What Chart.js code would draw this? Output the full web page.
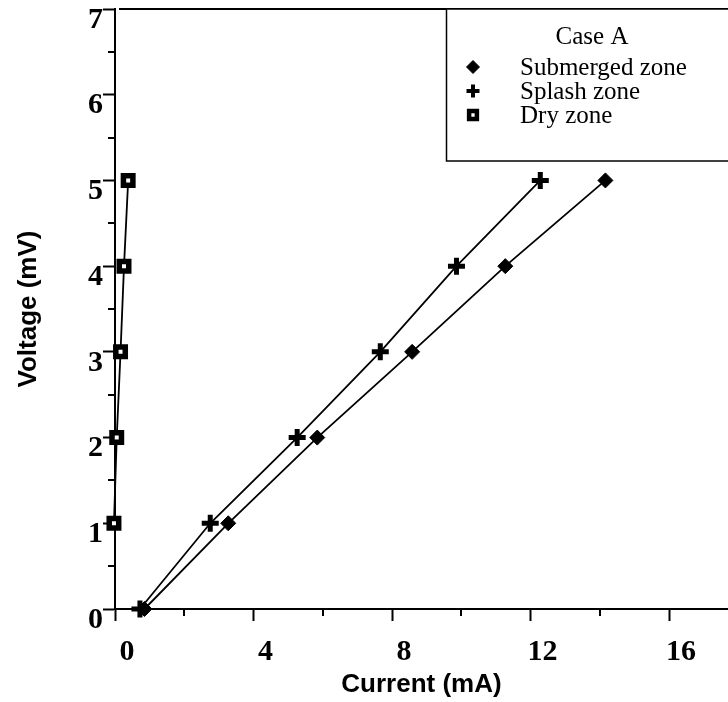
<!DOCTYPE html>
<html>
<head>
<meta charset="utf-8">
<script src="https://cdn.jsdelivr.net/npm/chart.js@4.4.0/dist/chart.umd.min.js"></script>
<style>
  html, body { margin: 0; padding: 0; background: #fff; overflow: hidden; }
  #wrap { width: 728px; height: 702px; position: relative; }
  canvas { display: block; }
</style>
</head>
<body>
<div id="wrap"><canvas id="chart"></canvas></div>
<script>
// Voltage steps (mV) and measured current (mA) for each zone
const voltage = [0, 1, 2, 3, 4, 5];
const submergedCurrent = [0.85, 3.27, 5.84, 8.58, 11.27, 14.16];
const splashCurrent = [0.72, 2.75, 5.26, 7.66, 9.86, 12.28];
const dryCurrent = [-0.05, -0.03, 0.05, 0.16, 0.26, 0.38];

const seriesLabels = ['Submerged zone', 'Splash zone', 'Dry zone'];
const legendTitle = 'Case A';

const xMinorTicks = [2, 6, 10, 14];
const yMinorTicks = [0.5, 1.5, 2.5, 3.5, 4.5, 5.5, 6.5];

function pairs(xs) {
    return xs.map((v, i) => ({ x: v, y: voltage[i] }));
}

const serif = '"Liberation Serif", "Times New Roman", serif';
const sans = '"Liberation Sans", Arial, sans-serif';

// minor ticks + top frame line
const frame = {
    id: 'frame',
    afterDraw(chart) {
        const ctx = chart.ctx;
        const area = chart.chartArea;
        const xs = chart.scales.x;
        const ys = chart.scales.y;
        ctx.save();
        ctx.strokeStyle = '#000';
        ctx.lineWidth = 2;
        ctx.beginPath();
        ctx.moveTo(area.left + 4, area.top);
        ctx.lineTo(area.right, area.top);
        yMinorTicks.forEach(v => {
            const py = Math.round(ys.getPixelForValue(v));
            ctx.moveTo(area.left - 7, py);
            ctx.lineTo(area.left, py);
        });
        xMinorTicks.forEach(v => {
            const px = Math.round(xs.getPixelForValue(v));
            ctx.moveTo(px, area.bottom);
            ctx.lineTo(px, area.bottom + 7);
        });
        ctx.stroke();
        ctx.restore();
    }
};

// boxed legend in the top right corner
const legendBox = {
    id: 'legendBox',
    afterDraw(chart) {
        const ctx = chart.ctx;
        ctx.save();
        ctx.fillStyle = '#fff';
        ctx.fillRect(446, 9, 300, 152);
        ctx.strokeStyle = '#000';
        ctx.lineWidth = 1.5;
        ctx.strokeRect(446.5, 9, 300, 152);

        ctx.fillStyle = '#000';
        ctx.font = '25px ' + serif;
        ctx.textBaseline = 'alphabetic';
        ctx.textAlign = 'center';
        ctx.fillText(legendTitle, 592, 44);

        const marks = [
            { radius: 6.5, borderWidth: 1 },
            { radius: 6.5, borderWidth: 4 },
            { radius: 5.5, borderWidth: 4.5 }
        ];
        chart.data.datasets.forEach((ds, i) => {
            const y = 67 + i * 24;
            ctx.fillStyle = ds.pointBackgroundColor;
            ctx.strokeStyle = ds.pointBorderColor;
            ctx.lineWidth = marks[i].borderWidth;
            Chart.helpers.drawPoint(ctx, {
                pointStyle: ds.pointStyle,
                radius: marks[i].radius,
                borderWidth: marks[i].borderWidth,
                rotation: 0
            }, 473, y);
            ctx.fillStyle = '#000';
            ctx.textAlign = 'left';
            ctx.fillText(ds.label, 520, y + 8);
        });
        ctx.restore();
    }
};

const ctx = document.getElementById('chart').getContext('2d');

new Chart(ctx, {
    type: 'scatter',
    data: {
        datasets: [{
            label: seriesLabels[0],
            data: pairs(submergedCurrent),
            showLine: true,
            borderColor: '#000',
            borderWidth: 1.8,
            pointStyle: 'rectRot',
            pointRadius: 7.5,
            pointBackgroundColor: '#000',
            pointBorderColor: '#000',
            pointBorderWidth: 1,
            clip: false
        }, {
            label: seriesLabels[1],
            data: pairs(splashCurrent),
            showLine: true,
            borderColor: '#000',
            borderWidth: 1.8,
            pointStyle: 'cross',
            pointRadius: 8.5,
            pointBackgroundColor: '#000',
            pointBorderColor: '#000',
            pointBorderWidth: 5,
            clip: false
        }, {
            label: seriesLabels[2],
            data: pairs(dryCurrent),
            showLine: true,
            borderColor: '#000',
            borderWidth: 1.8,
            pointStyle: 'rect',
            pointRadius: 6.7,
            pointBackgroundColor: '#fff',
            pointBorderColor: '#000',
            pointBorderWidth: 5.5,
            clip: false
        }]
    },
    options: {
        responsive: true,
        maintainAspectRatio: false,
        animation: false,
        layout: {
            autoPadding: false,
            padding: { top: 9, right: 0, bottom: 0, left: 0 }
        },
        plugins: {
            legend: { display: false },
            tooltip: { enabled: false }
        },
        scales: {
            x: {
                type: 'linear',
                min: 0,
                max: 17.7,
                afterFit: (scale) => {
                    scale.height = 93;
                    scale.paddingLeft = 0;
                    scale.paddingRight = 0;
                },
                border: { color: '#000', width: 2 },
                grid: {
                    drawOnChartArea: false,
                    tickLength: 12,
                    tickWidth: 2,
                    tickColor: '#000'
                },
                ticks: {
                    stepSize: 4,
                    includeBounds: false,
                    maxRotation: 0,
                    labelOffset: 12,
                    padding: 13,
                    color: '#000',
                    font: { family: serif, size: 30, weight: 'bold' }
                },
                title: {
                    display: true,
                    text: 'Current (mA)',
                    color: '#000',
                    padding: { top: 0, bottom: 2 },
                    font: { family: sans, size: 26, weight: 'bold' }
                }
            },
            y: {
                type: 'linear',
                min: 0,
                max: 7,
                afterFit: (scale) => {
                    scale.width = 115;
                    scale.paddingTop = 0;
                    scale.paddingBottom = 0;
                },
                border: { color: '#000', width: 2 },
                grid: {
                    drawOnChartArea: false,
                    tickLength: 12,
                    tickWidth: 2,
                    tickColor: '#000'
                },
                ticks: {
                    stepSize: 1,
                    includeBounds: false,
                    labelOffset: 11,
                    padding: 0,
                    color: '#000',
                    font: { family: serif, size: 30, weight: 'bold' }
                },
                title: {
                    display: true,
                    text: 'Voltage (mV)',
                    color: '#000',
                    padding: { top: 13, bottom: 0 },
                    font: { family: sans, size: 26, weight: 'bold' }
                }
            }
        }
    },
    plugins: [frame, legendBox]
});
</script>
</body>
</html>
